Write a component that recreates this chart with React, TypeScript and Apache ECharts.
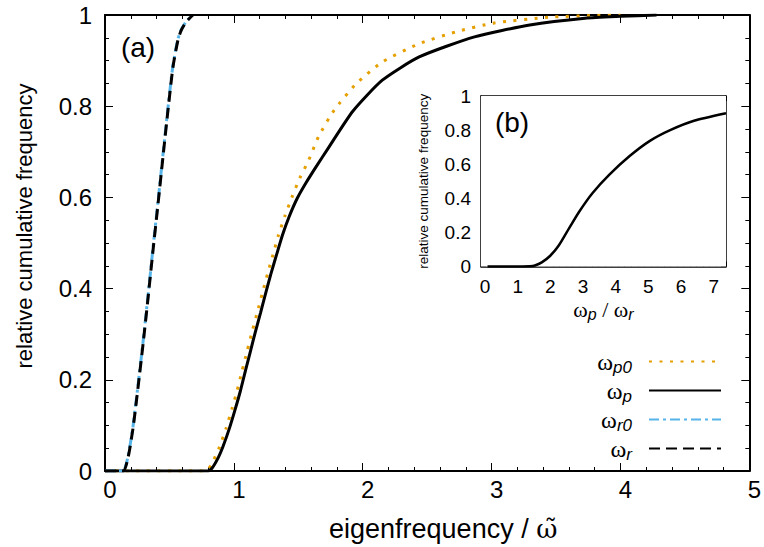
import React, { useEffect, useRef } from 'react';
import * as echarts from 'echarts';

// ---- data ----
// main panel (a): relative cumulative frequency vs eigenfrequency
const wrX = [0, 0.141, 0.18, 0.219, 0.257, 0.296, 0.335, 0.373, 0.412, 0.45, 0.489, 0.528, 0.566, 0.592, 0.63, 0.682];
const wrY = [0, 0, 0.031, 0.097, 0.185, 0.28, 0.382, 0.485, 0.587, 0.689, 0.792, 0.887, 0.945, 0.967, 0.985, 1];

const wr0X = [0, 0.139, 0.178, 0.217, 0.255, 0.294, 0.333, 0.371, 0.41, 0.448, 0.487, 0.526, 0.564, 0.59, 0.628, 0.68];
const wr0Y = [0, 0, 0.031, 0.097, 0.185, 0.28, 0.382, 0.485, 0.587, 0.689, 0.792, 0.887, 0.945, 0.967, 0.985, 1];

const wpX = [0, 0.8, 0.83, 0.88, 0.915, 0.966, 1.01, 1.051, 1.09, 1.128, 1.167, 1.208, 1.247, 1.288, 1.332, 1.378, 1.428, 1.49, 1.56, 1.64, 1.73, 1.923, 2.152, 2.438, 2.867, 3.296, 3.725, 4.0, 4.28];
const wpY = [0, 0, 0.006, 0.03, 0.053, 0.094, 0.135, 0.176, 0.22, 0.262, 0.305, 0.348, 0.39, 0.433, 0.475, 0.518, 0.557, 0.597, 0.632, 0.668, 0.707, 0.789, 0.857, 0.908, 0.952, 0.978, 0.993, 0.997, 1];

const wp0X = [0, 0.78, 0.824, 0.889, 0.94, 0.984, 1.025, 1.064, 1.102, 1.141, 1.182, 1.221, 1.262, 1.304, 1.347, 1.396, 1.45, 1.511, 1.578, 1.66, 1.78, 1.952, 2.152, 2.438, 2.724, 3.01, 3.44, 3.8, 4.0];
const wp0Y = [0, 0, 0.013, 0.053, 0.094, 0.135, 0.176, 0.22, 0.262, 0.305, 0.348, 0.39, 0.433, 0.475, 0.518, 0.559, 0.6, 0.642, 0.68, 0.735, 0.792, 0.85, 0.897, 0.937, 0.963, 0.982, 0.995, 0.999, 1];

// inset (b): relative cumulative frequency vs ωp/ωr
const ratioX = [0.2, 1.0, 1.5, 1.65, 1.86, 2.12, 2.38, 2.69, 3.0, 3.41, 3.93, 4.55, 5.17, 5.79, 6.52, 7.5];
const ratioY = [0, 0, 0.002, 0.006, 0.024, 0.063, 0.123, 0.222, 0.32, 0.43, 0.539, 0.648, 0.737, 0.8, 0.855, 0.899];

const legendNames = ['ωp0', 'ωp', 'ωr0', 'ωr'];

const FONT = "'Liberation Sans', Arial, Helvetica, sans-serif";
const SERIF = "'Liberation Serif', 'DejaVu Serif', serif";
const TILDE_FONT = "'DejaVu Serif', serif";

const zip = (xs: number[], ys: number[]) => xs.map((x, i) => [x, ys[i]]);

function axis(o: any) {
  const { gridIndex, position, min, max, interval, labels, minor, tickLen, minorLen, lineWidth, fontSize, margin, labelPadding, formatter, extra } = o;
  return {
    type: 'value',
    gridIndex,
    position,
    min,
    max,
    interval,
    axisLine: { show: true, onZero: false, lineStyle: { color: '#000', width: lineWidth } },
    axisTick: { show: true, inside: true, length: tickLen, lineStyle: { color: '#000', width: 1 } },
    minorTick: minor ? { show: true, splitNumber: minor, length: minorLen, lineStyle: { color: '#000', width: 1 } } : { show: false },
    axisLabel: labels
      ? { show: true, color: '#000', fontSize, fontFamily: FONT, margin, padding: labelPadding, formatter }
      : { show: false },
    splitLine: { show: false },
    minorSplitLine: { show: false },
    ...(extra || {}),
  };
}

export default function App() {
  const ref = useRef<HTMLDivElement>(null);
  useEffect(() => {
    const chart = echarts.init(ref.current!, null, { renderer: 'svg' });
    const intLabel = (v: number) => (Math.abs(v - Math.round(v)) < 1e-9 ? String(Math.round(v)) : '');
    const lineCommon = { type: 'line', xAxisIndex: 0, yAxisIndex: 0, showSymbol: false, symbol: 'none', smooth: 0.2 };
    const option: any = {
      animation: false,
      backgroundColor: '#fff',
      textStyle: { fontFamily: FONT },
      grid: [
        { left: 105, top: 15, width: 648, height: 456, show: false },
        { left: 481, top: 96, width: 245, height: 170.5, show: true, backgroundColor: '#fff', borderWidth: 0, z: 3 },
      ],
      xAxis: [
        axis({
          gridIndex: 0, position: 'bottom', min: 0, max: 5, interval: 1, labels: true, minor: 5, tickLen: 8, minorLen: 4,
          lineWidth: 2, fontSize: 24, margin: 6, labelPadding: [0, 0, 0, 10],
          extra: {
            name: '{t|eigenfrequency / }{w|ω\u0303}',
            nameLocation: 'middle',
            nameGap: 44,
            nameTextStyle: {
              padding: [0, 0, 0, 32],
              rich: {
                t: { fontSize: 27, fontFamily: FONT, color: '#000' },
                w: { fontSize: 26, fontFamily: TILDE_FONT, color: '#000' },
              },
            },
          },
        }),
        axis({ gridIndex: 0, position: 'top', min: 0, max: 5, interval: 1, labels: false, minor: 5, tickLen: 8, minorLen: 4, lineWidth: 2 }),
        axis({
          gridIndex: 1, position: 'bottom', min: 0, max: 7.5, interval: 1, labels: true, minor: 5, tickLen: 5, minorLen: 3,
          lineWidth: 1.5, fontSize: 19, margin: 10, labelPadding: [0, 0, 0, 8], formatter: intLabel,
          extra: {
            name: '{w|ω}{s|p}{w| / ω}{s|r}',
            nameLocation: 'middle',
            nameGap: 20,
            nameTextStyle: {
              rich: {
                w: { fontSize: 22, fontFamily: SERIF, color: '#000', lineHeight: 22 },
                s: { fontSize: 16, fontFamily: FONT, fontStyle: 'italic', color: '#000', lineHeight: 12, padding: [10, 0, 0, 0] },
              },
            },
          },
        }),
        axis({ gridIndex: 1, position: 'top', min: 0, max: 7.5, interval: 1, labels: false, minor: 5, tickLen: 5, minorLen: 3, lineWidth: 1.5 }),
      ],
      yAxis: [
        axis({
          gridIndex: 0, position: 'left', min: 0, max: 1, interval: 0.2, labels: true, minor: 4, tickLen: 8, minorLen: 4,
          lineWidth: 2, fontSize: 24, margin: 13,
          extra: {
            name: 'relative cumulative frequency',
            nameLocation: 'middle',
            nameGap: 70,
            nameTextStyle: { fontSize: 22, fontFamily: FONT, color: '#000', padding: [0, 0, 0, 34] },
          },
        }),
        axis({ gridIndex: 0, position: 'right', min: 0, max: 1, interval: 0.2, labels: false, minor: 4, tickLen: 8, minorLen: 4, lineWidth: 2 }),
        axis({
          gridIndex: 1, position: 'left', min: 0, max: 1, interval: 0.2, labels: true, minor: 0, tickLen: 5, minorLen: 3,
          lineWidth: 1.5, fontSize: 19, margin: 10,
          extra: {
            name: 'relative cumulative frequency',
            nameLocation: 'middle',
            nameGap: 51,
            nameTextStyle: { fontSize: 13.5, fontFamily: FONT, color: '#000' },
          },
        }),
        axis({ gridIndex: 1, position: 'right', min: 0, max: 1, interval: 0.2, labels: false, minor: 0, tickLen: 5, minorLen: 3, lineWidth: 1.5 }),
      ],
      legend: {
        data: legendNames,
        orient: 'vertical',
        right: 37,
        top: 342,
        align: 'right',
        itemWidth: 72,
        itemHeight: 14,
        itemGap: 0,
        selectedMode: false,
        itemStyle: { opacity: 0 },
        formatter: (name: string) => `{w|ω}{s|${name.slice(1)}}`,
        textStyle: {
          padding: [0, 12, 0, 0],
          rich: {
            w: { fontSize: 24, fontFamily: SERIF, color: '#000', lineHeight: 24 },
            s: { fontSize: 17, fontFamily: FONT, fontStyle: 'italic', color: '#000', lineHeight: 12, padding: [12, 0, 0, 0] },
          },
        },
      },
      graphic: [
        { type: 'text', x: 138, y: 47, style: { text: '(a)', font: `28px ${FONT}`, fill: '#000', align: 'center', verticalAlign: 'middle' } },
        { type: 'text', x: 512, y: 122, z: 10, style: { text: '(b)', font: `28px ${FONT}`, fill: '#000', align: 'center', verticalAlign: 'middle' } },
      ],
      series: [
        {
          ...lineCommon, name: 'ωp0', data: zip(wp0X, wp0Y), color: '#E69F00',
          lineStyle: { color: '#E69F00', width: 3, type: [3, 7.5], cap: 'butt' },
        },
        {
          ...lineCommon, name: 'ωp', data: zip(wpX, wpY), color: '#000',
          lineStyle: { color: '#000', width: 3 },
        },
        {
          ...lineCommon, name: 'ωr0', data: zip(wr0X, wr0Y), color: '#56B4E9',
          lineStyle: { color: '#56B4E9', width: 3, type: [10, 4, 3, 4], cap: 'butt' },
        },
        {
          ...lineCommon, name: 'ωr', data: zip(wrX, wrY), color: '#000',
          lineStyle: { color: '#000', width: 3, type: [11, 6], cap: 'butt' },
        },
        {
          ...lineCommon, name: 'ratio', xAxisIndex: 2, yAxisIndex: 2, data: zip(ratioX, ratioY), color: '#000', z: 5,
          lineStyle: { color: '#000', width: 2.5 },
        },
      ],
    };
    chart.setOption(option);
    return () => chart.dispose();
  }, []);
  return (
    <div
      ref={ref}
      style={{ position: 'fixed', left: 0, top: 0, width: 764, height: 547, background: '#fff' }}
    />
  );
}
